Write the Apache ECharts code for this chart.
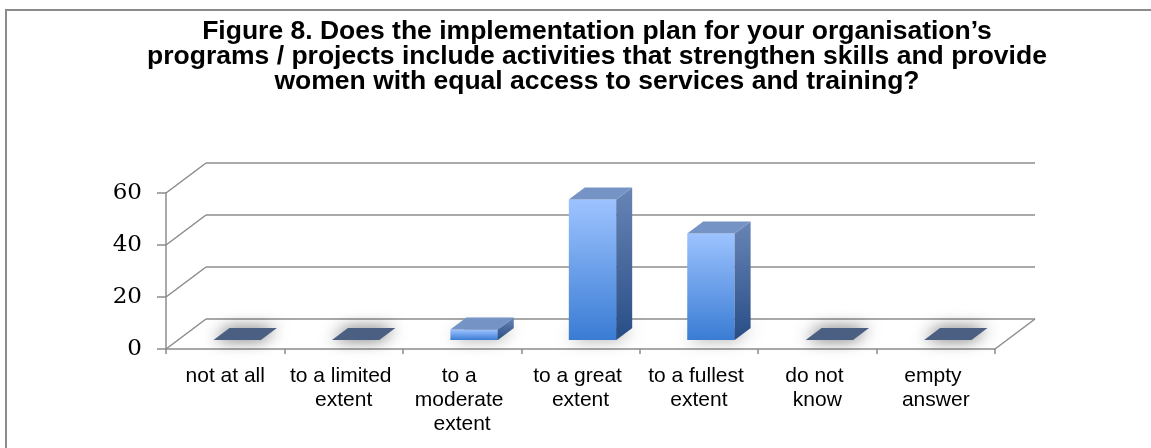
<!DOCTYPE html>
<html>
<head>
<meta charset="utf-8">
<script src="https://cdn.jsdelivr.net/npm/echarts@6/dist/echarts.min.js"></script>
<style>
  html, body { margin: 0; padding: 0; background: #ffffff; }
  #chart { width: 1151px; height: 448px; }
</style>
</head>
<body>
<div id="chart"></div>
<script>
// ---- data ----
const titleLines = [
  'Figure 8. Does the implementation plan for your organisation\u2019s',
  'programs / projects include activities that strengthen skills and provide',
  'women with equal access to services and training?'
];
const categories = ['not at all', 'to a limited extent', 'to a moderate extent', 'to a great extent', 'to a fullest extent', 'do not know', 'empty answer'];
const values = [0, 0, 4, 54, 41, 0, 0];
const yTicks = [0, 20, 40, 60];

// ---- 3D look ----
const DX = 40, DY = -30;      // full floor depth offset
const D0 = 0.3, D1 = 0.7;     // bar depth range (fraction of floor depth)
const BAR_W = 0.4;            // fraction of category width
const LINE = '#8c8c8c';

const chart = echarts.init(document.getElementById('chart'), null, { renderer: 'canvas' });

function frameItem(params, api) {
  const cs = params.coordSys;
  const x0 = cs.x, x1 = cs.x + cs.width;
  const children = [];
  const style = { stroke: LINE, lineWidth: 1.5 };
  yTicks.forEach(function (v) {
    const y = api.coord([0, v])[1];
    children.push({ type: 'line', shape: { x1: x0, y1: y, x2: x0 + DX, y2: y + DY }, style: style });
    children.push({ type: 'line', shape: { x1: x0 + DX, y1: y + DY, x2: x1 + DX, y2: y + DY }, style: style });
  });
  const y0 = api.coord([0, yTicks[0]])[1];
  children.push({ type: 'line', shape: { x1: x1, y1: y0, x2: x1 + DX, y2: y0 + DY }, style: style });
  return { type: 'group', children: children };
}

function barItem(params, api) {
  const idx = api.value(0);
  const val = api.value(1);
  const base = api.coord([idx, 0]);
  const top = api.coord([idx, val]);
  const bw = api.size([1, 0])[0] * BAR_W;
  const xl = base[0] - bw / 2, xr = base[0] + bw / 2;
  const yb = base[1], yt = top[1];
  const fx = DX * D0, fy = DY * D0, bx = DX * D1, by = DY * D1;
  const children = [];
  // floor shadow / flat zero bar
  children.push({
    type: 'polygon',
    shape: { points: [[xl + fx, yb + fy], [xr + fx, yb + fy], [xr + bx, yb + by], [xl + bx, yb + by]] },
    style: { fill: val > 0 ? 'rgba(120,120,120,0.6)' : '#4b5f82', shadowBlur: 16, shadowColor: 'rgba(0,0,0,0.6)' }
  });
  if (val > 0) {
    children.push({
      type: 'polygon',
      shape: { points: [[xl + fx, yb + fy], [xr + fx, yb + fy], [xr + fx, yt + fy], [xl + fx, yt + fy]] },
      style: { fill: new echarts.graphic.LinearGradient(0, 0, 0, 1, [
        { offset: 0, color: '#9dc3ff' }, { offset: 1, color: '#3a7cd4' }]) }
    });
    children.push({
      type: 'polygon',
      shape: { points: [[xr + fx, yb + fy], [xr + bx, yb + by], [xr + bx, yt + by], [xr + fx, yt + fy]] },
      style: { fill: new echarts.graphic.LinearGradient(0, 0, 0, 1, [
        { offset: 0, color: '#6885b6' }, { offset: 1, color: '#284d86' }]) }
    });
    children.push({
      type: 'polygon',
      shape: { points: [[xl + fx, yt + fy], [xr + fx, yt + fy], [xr + bx, yt + by], [xl + bx, yt + by]] },
      style: { fill: '#7593c5' }
    });
  }
  return { type: 'group', children: children };
}

const option = {
  backgroundColor: '#ffffff',
  animation: false,
  title: {
    text: titleLines.join('\n'),
    left: 592,
    top: 14,
    textAlign: 'center',
    textStyle: {
      fontFamily: 'Liberation Sans, Arial, sans-serif',
      fontSize: 26.5,
      fontWeight: 'bold',
      lineHeight: 25,
      color: '#000000'
    }
  },
  graphic: [{
    type: 'rect',
    shape: { x: 6, y: 10, width: 1300, height: 600 },
    style: { fill: 'none', stroke: LINE, lineWidth: 2 },
    silent: true,
    z: -10
  }],
  grid: { left: 166, right: 156, top: 193, bottom: 99 },
  xAxis: {
    type: 'category',
    data: categories,
    boundaryGap: true,
    axisLine: { show: true, lineStyle: { color: LINE, width: 1.5 } },
    axisTick: { show: true, length: 5, lineStyle: { color: LINE, width: 1.5 } },
    axisLabel: {
      interval: 0,
      margin: 15,
      color: '#000000',
      fontFamily: 'Liberation Sans, Arial, sans-serif',
      fontSize: 21,
      lineHeight: 24,
      width: 108,
      overflow: 'break'
    },
    splitLine: { show: false }
  },
  yAxis: {
    type: 'value',
    min: 0,
    max: 60,
    interval: 20,
    axisLine: { show: true, lineStyle: { color: LINE, width: 1.5 } },
    axisTick: { show: true, length: 9, lineStyle: { color: LINE, width: 1.5 } },
    axisLabel: {
      margin: 24,
      color: '#000000',
      fontFamily: 'DejaVu Serif, serif',
      fontSize: 23,
      padding: [6, 0, 0, 0]
    },
    splitLine: { show: false }
  },
  series: [
    {
      type: 'custom',
      name: 'frame',
      renderItem: frameItem,
      data: [[0, 0]],
      encode: { x: 0, y: 1 },
      silent: true,
      clip: false,
      z: 1
    },
    {
      type: 'custom',
      name: 'share',
      renderItem: barItem,
      data: values.map(function (v, i) { return [i, v]; }),
      encode: { x: 0, y: 1 },
      clip: false,
      z: 2
    }
  ]
};

chart.setOption(option);
</script>
</body>
</html>
